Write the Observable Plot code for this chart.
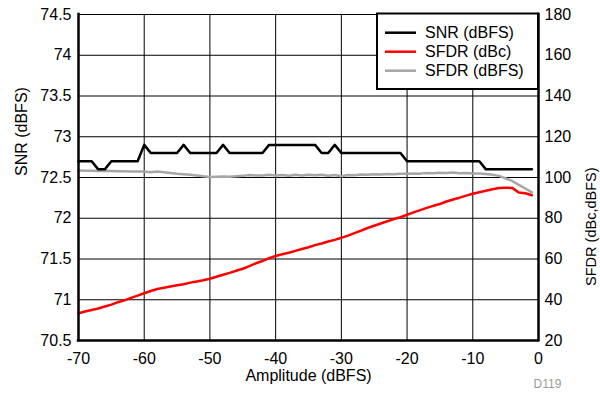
<!DOCTYPE html>
<html><head><meta charset="utf-8">
<script src="https://cdn.jsdelivr.net/npm/d3@7"></script>
<script src="https://cdn.jsdelivr.net/npm/@observablehq/plot@0.6"></script>
<style>body{margin:0;background:#fff;} #chart svg{display:block;}</style>
</head><body><div id="chart"></div>
<script>
const amplitude = [-70,-69,-68,-67,-66,-65,-64,-63,-62,-61,-60,-59,-58,-57,-56,-55,-54,-53,-52,-51,
  -50,-49,-48,-47,-46,-45,-44,-43,-42,-41,-40,-39,-38,-37,-36,-35,-34,-33,-32,-31,
  -30,-29,-28,-27,-26,-25,-24,-23,-22,-21,-20,-19,-18,-17,-16,-15,-14,-13,-12,-11,
  -10,-9,-8,-7,-6,-5,-4,-3,-2,-1];
const snr = [72.7,72.7,72.7,72.6,72.6,72.7,72.7,72.7,72.7,72.7,72.9,72.8,72.8,72.8,72.8,72.8,72.9,72.8,72.8,72.8,
  72.8,72.8,72.9,72.8,72.8,72.8,72.8,72.8,72.8,72.9,72.9,72.9,72.9,72.9,72.9,72.9,72.9,72.8,72.8,72.9,
  72.8,72.8,72.8,72.8,72.8,72.8,72.8,72.8,72.8,72.8,72.7,72.7,72.7,72.7,72.7,72.7,72.7,72.7,72.7,72.7,
  72.7,72.7,72.6,72.6,72.6,72.6,72.6,72.6,72.6,72.6];
const sfdrDbc = [33.4,34.2,35.0,35.7,36.7,37.6,38.8,39.7,40.9,42.0,43.2,44.3,45.3,45.9,46.5,47.1,47.6,48.4,49.0,49.6,
  50.3,51.3,52.3,53.2,54.2,55.2,56.5,57.9,59.0,60.4,61.5,62.3,63.1,64.0,64.9,65.8,66.8,67.6,68.6,69.4,
  70.4,71.5,72.7,73.9,75.2,76.3,77.4,78.5,79.6,80.5,81.7,82.9,84.0,85.1,86.1,87.0,88.2,89.2,90.1,91.1,
  92.0,92.8,93.5,94.2,94.8,95.0,94.9,92.6,92.3,91.3];
const sfdrDbfs = [103.4,103.3,103.3,103.2,103.3,103.2,103.1,103.1,103.0,103.0,102.9,102.6,103.0,102.6,102.2,101.8,101.6,101.4,101.0,100.6,
  100.3,100.4,100.5,100.4,100.6,100.8,101.2,101.0,101.0,101.3,101.0,101.2,100.9,101.3,101.0,101.3,101.1,101.4,100.9,101.2,
  100.6,101.2,101.1,101.5,101.4,101.6,101.5,101.7,101.6,101.8,101.8,102.0,101.9,102.2,102.1,102.3,102.2,102.4,102.1,102.2,
  102.0,102.0,101.7,101.3,100.8,99.6,98.3,96.4,94.6,92.7];
const xTicks = [-70,-60,-50,-40,-30,-20,-10,0];
const yTicksLeft = [70.5,71,71.5,72,72.5,73,73.5,74,74.5];
const yTicksRight = [20,40,60,80,100,120,140,160,180];
const seriesNames = ["SNR (dBFS)","SFDR (dBc)","SFDR (dBFS)"];
const seriesColors = ["#000000","#ff0000","#a6a6a6"];
const xTitle = "Amplitude (dBFS)";
const yLeftTitle = "SNR (dBFS)";
const yRightTitle = "SFDR (dBc,dBFS)";
const figId = "D119";

// right axis (20..180) mapped onto left scale (70.5..74.5)
const toLeft = v => 70.5 + (v - 20) / 40;
const fromLeft = y => (y - 70.5) * 40 + 20;

const rows = amplitude.map((a, i) => ({a, snr: snr[i], dbc: toLeft(sfdrDbc[i]), dbfs: toLeft(sfdrDbfs[i])}));

const font = "'Liberation Sans', Arial, sans-serif";
const grid = {stroke: "#000", strokeOpacity: 1, strokeWidth: 1};

const svg = Plot.plot({
  width: 600, height: 394,
  marginLeft: 78, marginRight: 62, marginTop: 14, marginBottom: 54,
  style: {fontFamily: font, fontSize: "16px", color: "#000", background: "#fff"},
  x: {domain: [-70, 0]},
  y: {domain: [70.5, 74.5]},
  marks: [
    Plot.gridX(xTicks, grid),
    Plot.gridY(yTicksLeft, grid),
    Plot.axisX(xTicks, {tickSize: 0, tickPadding: 12, tickFormat: d => String(d), label: null, fontSize: 16}),
    Plot.axisY(yTicksLeft, {anchor: "left", tickSize: 0, tickPadding: 7, tickFormat: d => String(d), label: null, fontSize: 16}),
    Plot.axisY(yTicksRight.map(toLeft), {anchor: "right", tickSize: 0, tickPadding: 6, tickFormat: d => String(Math.round(fromLeft(d))), label: null, fontSize: 16}),
    Plot.line(rows, {x: "a", y: "dbfs", stroke: seriesColors[2], strokeWidth: 2.5}),
    Plot.line(rows, {x: "a", y: "snr", stroke: seriesColors[0], strokeWidth: 2.5}),
    Plot.line(rows, {x: "a", y: "dbc", stroke: seriesColors[1], strokeWidth: 2.5}),
    Plot.ruleX([-70, 0], {stroke: "#000", strokeWidth: 2.5, strokeLinecap: "square"}),
    Plot.ruleY([70.5], {stroke: "#000", strokeWidth: 2.5, strokeLinecap: "square"}),
    Plot.text([xTitle], {frameAnchor: "bottom", dy: 40, fontSize: 16, fill: "#000"}),
    Plot.text([yLeftTitle], {frameAnchor: "left", dx: -57, dy: -1.5, rotate: -90, fontSize: 16, fill: "#000"}),
    Plot.text([yRightTitle], {frameAnchor: "right", dx: 53, dy: -10, rotate: -90, fontSize: 14.5, fill: "#000"}),
    Plot.text([figId], {frameAnchor: "bottom-right", textAnchor: "middle", dx: 9, dy: 47, fontSize: 12, fill: "#9a9a9a"})
  ]
});

// legend box
const s = d3.select(svg);
const lg = s.append("g").attr("font-family", font).attr("font-size", 16).attr("text-anchor", "start");
lg.append("rect").attr("x", 377).attr("y", 13.5).attr("width", 161).attr("height", 75.5)
  .attr("fill", "#fff").attr("stroke", "#000").attr("stroke-width", 2);
seriesNames.forEach((name, i) => {
  const yy = 32.7 + i * 19;
  lg.append("line").attr("x1", 385).attr("x2", 416).attr("y1", yy).attr("y2", yy)
    .attr("stroke", seriesColors[i]).attr("stroke-width", 2.5);
  lg.append("text").attr("x", 425).attr("y", yy).attr("dy", "0.35em").attr("fill", "#000")
    .attr("text-anchor", "start").text(name);
});

document.getElementById("chart").appendChild(svg);
</script>
</body></html>
